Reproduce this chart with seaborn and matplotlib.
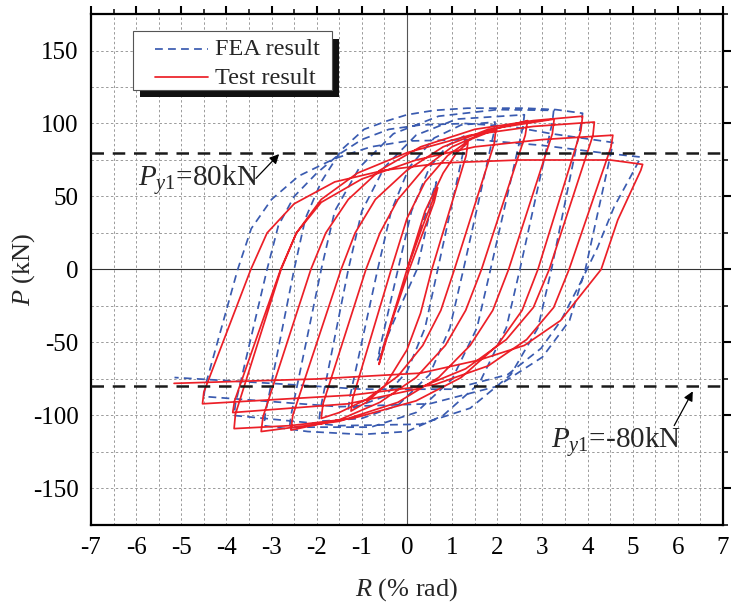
import matplotlib
matplotlib.use('Agg')
import matplotlib.pyplot as plt
import seaborn as sns
import pandas as pd
from matplotlib.ticker import MultipleLocator
from matplotlib.patches import Rectangle
from matplotlib.lines import Line2D

# ---------------- data ----------------
# Test result: one list of (R [% rad], P [kN]) vertices per loading cycle
test_c1 = [(0.0, 0), (0.35, 30), (0.68, 56), (0.6, 46), (0.05, 0), (-0.3, -32), (-0.62, -65), (-0.55, -56), (0.0, 0)]
test_c2 = [(0.0, 0), (0.4, 40), (0.8, 66), (1.1, 80), (1.35, 87), (1.31, 78), (0.55, 0), (0.3, -30), (0.0, -55),
           (-0.5, -80), (-0.9, -91), (-1.24, -97), (-1.2, -88), (-0.35, 0)]
test_c3 = [(-0.35, 0), (0.0, 35), (0.4, 60), (0.9, 78), (1.4, 89), (1.97, 96), (1.93, 86), (1.05, 0), (0.75, -28),
           (0.35, -52), (-0.2, -73), (-0.9, -89), (-1.5, -98), (-1.9, -102), (-1.86, -92), (-0.91, 0)]
test_c4 = [(-0.91, 0), (-0.6, 25), (-0.2, 48), (0.4, 70), (1.0, 84), (1.8, 95), (2.67, 102), (2.62, 92), (1.65, 0),
           (1.3, -28), (0.85, -52), (0.2, -74), (-0.6, -91), (-1.5, -103), (-2.57, -110), (-2.53, -100), (-1.46, 0)]
test_c5 = [(-1.46, 0), (-1.15, 25), (-0.7, 48), (0.0, 68), (0.8, 84), (1.8, 96), (3.26, 103), (3.22, 93), (2.25, 0),
           (1.9, -28), (1.4, -52), (0.7, -74), (-0.2, -91), (-1.5, -104), (-3.23, -111), (-3.19, -101), (-2.13, 0)]
test_c6 = [(-2.13, 0), (-1.8, 25), (-1.3, 48), (-0.6, 68), (0.3, 84), (1.5, 96), (2.8, 102), (3.89, 105), (3.85, 95),
           (2.9, 0), (2.55, -28), (2.0, -52), (1.2, -74), (0.2, -90), (-1.2, -102), (-2.6, -107), (-3.83, -109),
           (-3.8, -99), (-2.79, 0)]
test_c7 = [(-2.79, 0), (-2.45, 25), (-1.9, 48), (-1.1, 66), (0.0, 80), (1.4, 92), (2.8, 98), (4.15, 101), (4.12, 92),
           (3.15, 0), (2.8, -26), (2.2, -48), (1.3, -68), (0.2, -82), (-1.3, -92), (-3.86, -98), (-3.82, -90), (-2.8, 0)]
test_c8 = [(-2.8, 0), (-2.45, 25), (-1.9, 46), (-1.0, 62), (0.2, 75), (1.5, 84), (3.0, 89), (4.56, 92), (4.52, 84),
           (3.59, 0), (3.25, -26), (2.65, -48), (1.8, -66), (0.6, -79), (-1.2, -86), (-4.53, -92), (-4.5, -84), (-3.46, 0)]
test_c9 = [(-3.46, 0), (-3.1, 25), (-2.5, 45), (-1.6, 60), (-0.5, 68), (0.8, 73), (2.5, 75), (4.5, 75), (5.22, 72),
           (5.18, 68), (4.67, 34), (4.3, 0), (3.4, -35), (2.6, -52), (1.6, -62), (0.3, -71), (-2.0, -75), (-5.16, -78)]

# FEA result
fea_c1 = [(0.0, 0), (0.35, 32), (0.65, 60), (0.6, 52), (0.22, 0), (-0.3, -36), (-0.65, -62), (-0.6, -54), (-0.2, 0)]
fea_c2 = [(-0.2, 0), (0.1, 40), (0.5, 70), (0.9, 85), (1.3, 92), (1.27, 84), (0.68, 0), (0.4, -40), (0.0, -70),
          (-0.5, -87), (-1.3, -96), (-1.27, -88), (-0.65, 0)]
fea_c3 = [(-0.65, 0), (-0.35, 40), (0.05, 70), (0.6, 90), (1.2, 99), (1.95, 101), (1.92, 93), (1.25, 0), (0.95, -40),
          (0.5, -72), (-0.2, -93), (-1.0, -102), (-1.95, -104), (-1.92, -96), (-1.3, 0)]
fea_c4 = [(-1.3, 0), (-1.0, 40), (-0.5, 70), (0.2, 92), (1.1, 103), (2.6, 106), (2.57, 98), (1.85, 0), (1.55, -40),
          (1.0, -75), (0.2, -98), (-0.8, -108), (-2.6, -108), (-2.57, -100), (-1.9, 0)]
fea_c5 = [(-1.9, 0), (-1.6, 40), (-1.05, 70), (-0.3, 93), (0.7, 105), (2.0, 109.5), (3.25, 109), (3.22, 101),
          (2.5, 0), (2.2, -40), (1.6, -78), (0.8, -100), (0.0, -111), (-1.0, -113), (-2.2, -111), (-3.17, -107),
          (-3.14, -99), (-2.5, 0)]
fea_c6 = [(-2.5, 0), (-2.25, 35), (-1.9, 60), (-1.45, 82), (-0.95, 96), (-0.42, 102), (0.0, 106), (0.6, 109),
          (1.34, 110.5), (2.6, 110.5), (3.3, 109.5), (3.89, 107), (3.85, 99), (3.2, 0), (2.9, -40), (2.3, -72),
          (1.4, -95), (0.3, -106), (-1.5, -107), (-3.83, -100), (-3.8, -92), (-3.1, 0)]
fea_c7 = [(-3.1, 0), (-2.85, 30), (-2.5, 50), (-2.0, 66), (-1.5, 79), (-1.0, 89), (-0.4, 96), (0.3, 99), (1.3, 100),
          (2.3, 98), (3.2, 93), (4.56, 87), (4.52, 80), (3.95, 0), (3.6, -35), (3.0, -60), (2.0, -80), (0.5, -92),
          (-1.5, -94), (-4.5, -87), (-4.47, -80), (-3.75, 0)]
fea_c8 = [(-3.75, 0), (-3.45, 28), (-3.0, 48), (-2.4, 64), (-1.6, 76), (-0.8, 84), (0.0, 88), (1.5, 89), (3.0, 85),
          (4.3, 80), (5.18, 77), (5.03, 68), (4.59, 43), (4.22, 15), (3.86, -8), (3.41, -35), (2.97, -54),
          (2.23, -72), (1.0, -82), (-1.0, -82), (-3.0, -78), (-5.15, -74)]

test_cycles = [test_c1, test_c2, test_c3, test_c4, test_c5, test_c6, test_c7, test_c8, test_c9]
fea_cycles = [fea_c1, fea_c2, fea_c3, fea_c4, fea_c5, fea_c6, fea_c7, fea_c8]

series_names = ['FEA result', 'Test result']
x_ticks = [-7, -6, -5, -4, -3, -2, -1, 0, 1, 2, 3, 4, 5, 6, 7]
y_ticks = [-150, -100, -50, 0, 50, 100, 150]
yield_levels = [80, -80]

# ---------------- build table ----------------
rows = []
for name, cycles in zip(series_names, [fea_cycles, test_cycles]):
    for cyc in cycles:
        for r, p in cyc:
            rows.append({'R': r, 'P': p, 'series': name})
df = pd.DataFrame(rows)

# ---------------- style ----------------
sns.set_theme(style='white')
plt.rcParams['font.family'] = ['Liberation Serif', 'DejaVu Serif']
plt.rcParams['mathtext.fontset'] = 'custom'
plt.rcParams['mathtext.rm'] = 'Liberation Serif'
plt.rcParams['mathtext.it'] = 'Liberation Serif:italic'
plt.rcParams['axes.unicode_minus'] = False

BLUE = '#3a5bb0'
RED = '#ec1f27'
DASH = (4.5, 3)

fig = plt.figure(figsize=(7.32, 6.09), dpi=100)
ax = fig.add_axes([0.1243, 0.138, 0.8634, 0.839])

sns.lineplot(data=df, x='R', y='P', hue='series', style='series', sort=False, estimator=None,
             hue_order=series_names, style_order=series_names,
             palette={'FEA result': BLUE, 'Test result': RED},
             dashes={'FEA result': DASH, 'Test result': ''},
             linewidth=1.25, legend=False, ax=ax, zorder=2)

ax.set_xlim(-7, 7)
ax.set_ylim(-175, 175)
ax.set_xticks(x_ticks)
ax.set_yticks(y_ticks)
ax.set_xticklabels([str(t) for t in x_ticks])
ax.set_yticklabels([str(t) for t in y_ticks])
ax.xaxis.set_minor_locator(MultipleLocator(0.5))
ax.yaxis.set_minor_locator(MultipleLocator(25))

ax.grid(which='both', color='#9a9a9a', linestyle=(0, (2.5, 2.5)), linewidth=0.7)
ax.set_axisbelow(True)

ax.axhline(0, color='#333333', lw=0.8, zorder=1.5)
ax.axvline(0, color='#555555', lw=0.8, zorder=1.5)
for lv in yield_levels:
    ax.axhline(lv, color='#1a1a1a', lw=1.8, dashes=(5, 3.5), zorder=3)

for s in ax.spines.values():
    s.set_linewidth(1.6)
    s.set_color('black')
ax.tick_params(which='major', direction='out', length=6, width=1.5, top=True, right=True,
               labelsize=18, colors='black', pad=3)
ax.tick_params(which='minor', direction='out', length=3.5, width=1.3, top=True, right=True)

ax.set_xlabel(r'$\mathit{R}$ (% rad)', fontsize=19)
ax.set_ylabel(r'$\mathit{P}$ (kN)', fontsize=19)
ax.xaxis.set_label_coords(0.5, -0.10)
ax.yaxis.set_label_coords(-0.085, 0.5)

# annotations
ax.text(-5.96, 61.5, r'$\mathit{P}_{\mathit{y1}}$=80kN', fontsize=21, va='center', ha='left', zorder=6)
ax.annotate('', xy=(-2.79, 80.4), xytext=(-3.39, 61),
            arrowprops=dict(arrowstyle='-|>', color='black', lw=0.9, mutation_scale=14), zorder=6)
ax.text(3.2, -118, r'$\mathit{P}_{\mathit{y1}}$=-80kN', fontsize=21, va='center', ha='left', zorder=6)
ax.annotate('', xy=(6.36, -81.8), xytext=(5.89, -108.6),
            arrowprops=dict(arrowstyle='-|>', color='black', lw=0.9, mutation_scale=14), zorder=6)

# legend box drawn in axes-fraction coordinates (pixel positions of the reference)
def fx(px):
    return (px - 91) / 632.0

def fy(py):
    return (525 - py) / 511.0

box_l, box_r, box_t, box_b = 133, 332, 31, 90
off = 7.5
ax.add_patch(Rectangle((fx(box_l + off), fy(box_b + off)), fx(box_r) - fx(box_l), fy(box_t) - fy(box_b),
                       transform=ax.transAxes, facecolor='#111111', edgecolor='none', zorder=9, clip_on=False))
ax.add_patch(Rectangle((fx(box_l), fy(box_b)), fx(box_r) - fx(box_l), fy(box_t) - fy(box_b),
                       transform=ax.transAxes, facecolor='white', edgecolor='#555555', lw=0.8,
                       zorder=10, clip_on=False))
legend_styles = [dict(color=BLUE, dashes=DASH), dict(color=RED)]
for i, (name, st) in enumerate(zip(series_names, legend_styles)):
    yl = 48.5 + i * 28.5
    ln = Line2D([fx(155), fx(208)], [fy(yl), fy(yl)], transform=ax.transAxes, lw=1.25, zorder=11, **st)
    ax.add_line(ln)
    ax.text(fx(215), fy(yl + 6.5), name, transform=ax.transAxes, fontsize=17.5, ha='left',
            va='baseline', zorder=11)

fig.savefig('out.png', dpi=100)
